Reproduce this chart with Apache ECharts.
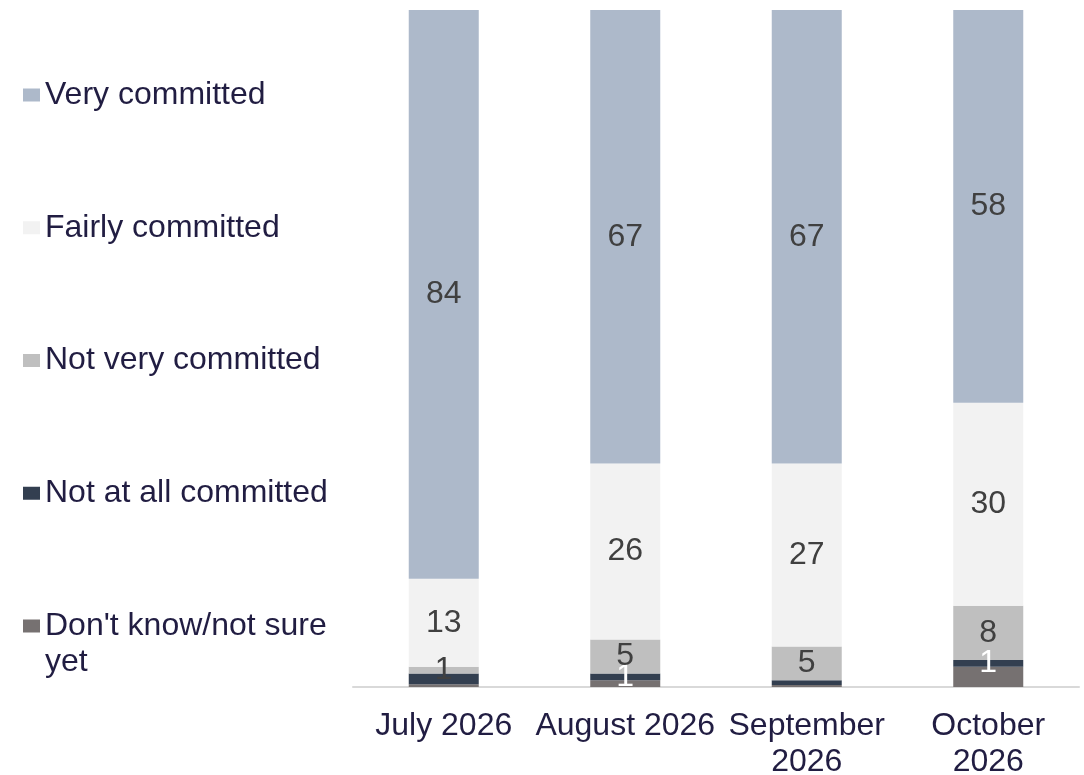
<!DOCTYPE html>
<html>
<head>
<meta charset="utf-8">
<title>Commitment by month</title>
<script src="https://cdn.jsdelivr.net/npm/echarts@6/dist/echarts.min.js"></script>
<style>
  html, body { margin: 0; padding: 0; background: #ffffff; }
  #chart { width: 1084px; height: 775px; }
</style>
</head>
<body>
<div id="chart"></div>
<script>
// Survey months (x-axis tick labels)
const categories = ['July 2026', 'August 2026', 'September\n2026', 'October\n2026'];

// Share of respondents (%) per answer, one value per month
const veryCommitted     = [84, 67, 67, 58];
const fairlyCommitted   = [13, 26, 27, 30];
const notVeryCommitted  = [1, 5, 5, 8];
const notAtAllCommitted = [1.6, 1, 0.7, 1];
const dontKnow          = [0.4, 1, 0.3, 3];

// Which months carry a printed value for the "Not at all committed" segment
const notAtAllLabelled  = [false, true, false, true];

const seriesNames = [
  'Very committed',
  'Fairly committed',
  'Not very committed',
  'Not at all committed',
  "Don't know/not sure yet"
];
const seriesColors = ['#ADB9CA', '#F2F2F2', '#BFBFBF', '#333F50', '#767171'];

const FONT = '"Liberation Sans", Arial, sans-serif';
const TEXT_NAVY = '#211D42';

function labelledData(values, shown) {
  return values.map((v, i) => ({
    value: v,
    label: { show: shown ? shown[i] : true }
  }));
}

function makeSeries(name, values, color, labelColor, shown) {
  return {
    name: name,
    type: 'bar',
    stack: 'total',
    barWidth: 70,
    itemStyle: { color: color },
    label: {
      show: true,
      position: 'inside',
      color: labelColor,
      fontFamily: FONT,
      fontSize: 32,
      formatter: p => String(Math.round(p.value))
    },
    emphasis: { disabled: true },
    data: labelledData(values, shown)
  };
}

// Stacked bottom-up: "Don't know" sits on the axis, "Very committed" on top
const allSeries = [
  makeSeries(seriesNames[4], dontKnow, seriesColors[4], '#FFFFFF', [false, false, false, false]),
  makeSeries(seriesNames[3], notAtAllCommitted, seriesColors[3], '#FFFFFF', notAtAllLabelled),
  makeSeries(seriesNames[2], notVeryCommitted, seriesColors[2], '#404040'),
  makeSeries(seriesNames[1], fairlyCommitted, seriesColors[1], '#404040'),
  makeSeries(seriesNames[0], veryCommitted, seriesColors[0], '#404040')
];

// Each legend entry is three lines tall, with the name on the middle line,
// so every icon lines up with the first line of its text.
function legendText(name) {
  if (name === "Don't know/not sure yet") {
    return "{e| }\n{t|Don't know/not sure}\n{t|yet}";
  }
  return '{e| }\n{t|' + name + '}\n{e| }';
}

const chart = echarts.init(document.getElementById('chart'), null, { renderer: 'canvas' });

chart.setOption({
  animation: false,
  backgroundColor: '#ffffff',
  textStyle: { fontFamily: FONT },
  legend: {
    orient: 'vertical',
    left: 18,
    top: 36,
    itemWidth: 17,
    itemHeight: 13,
    itemGap: 24.75,
    icon: 'rect',
    selectedMode: false,
    data: seriesNames,
    formatter: legendText,
    textStyle: {
      color: TEXT_NAVY,
      fontFamily: FONT,
      fontSize: 32,
      lineHeight: 36,
      rich: {
        t: { color: TEXT_NAVY, fontFamily: FONT, fontSize: 32, lineHeight: 36 },
        e: { fontSize: 32, lineHeight: 36 }
      }
    }
  },
  grid: {
    left: 353,
    right: 5,
    top: 10,
    bottom: 88,
    containLabel: false,
    outerBoundsMode: 'none'
  },
  xAxis: {
    type: 'category',
    data: categories,
    axisTick: { show: false },
    axisLine: { lineStyle: { color: '#D9D9D9', width: 2 } },
    axisLabel: {
      interval: 0,
      margin: 21,
      color: TEXT_NAVY,
      fontFamily: FONT,
      fontSize: 32,
      lineHeight: 36
    }
  },
  yAxis: {
    type: 'value',
    min: 0,
    max: 100,
    show: false,
    splitLine: { show: false }
  },
  series: allSeries
});
</script>
</body>
</html>
